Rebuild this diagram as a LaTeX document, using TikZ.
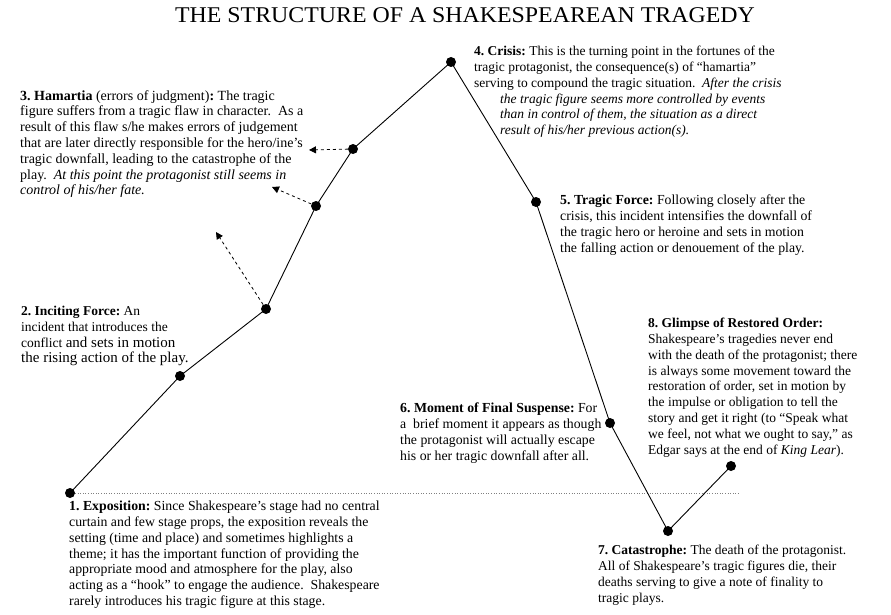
\documentclass[tikz,border=0pt]{standalone}
\usepackage{fontspec}
\setmainfont{Liberation Serif}
\usetikzlibrary{arrows.meta}
\frenchspacing
\tikzset{
  dot/.style={circle,fill=black,inner sep=0pt,minimum size=10pt},
  plotline/.style={line width=0.9pt,black},
  hint/.style={dashed,line width=0.8pt,-{Triangle[length=7pt,width=7pt]}},
  txt/.style={anchor=north west,inner sep=0pt,align=left,font=\fontsize{13.5}{15.8}\selectfont},
  txtb/.style={txt,font=\fontsize{13.8}{15.8}\selectfont},
}
\begin{document}
\begin{tikzpicture}[x=1pt,y=-1pt]
\useasboundingbox (0,0) rectangle (891,615);
% title
\node[inner sep=0pt,font=\fontsize{22.5}{24}\selectfont] (title) at (465,15) {\scalebox{1.06}[1]{THE STRUCTURE OF A SHAKESPEAREAN TRAGEDY}};
% baseline dotted
\coordinate (bl1) at (75,493);
\coordinate (bl2) at (740,493);
\draw[dotted,gray,line width=0.6pt] (bl1) -- (bl2);
% points
\node[dot] (p1) at (70,493) {};
\node[dot] (p2) at (180,376) {};
\node[dot] (p3) at (266,309) {};
\node[dot] (p4) at (316,206) {};
\node[dot] (p5) at (353,149) {};
\node[dot] (p6) at (451,62) {};
\node[dot] (p7) at (536,202) {};
\node[dot] (p8) at (610,423) {};
\node[dot] (p9) at (668,531) {};
\node[dot] (p10) at (731,466) {};
\draw[plotline] (p1.center) -- (p2.center) -- (p3.center) -- (p4.center) -- (p5.center) -- (p6.center) -- (p7.center) -- (p8.center) -- (p9.center) -- (p10.center);
% dashed arrows
\coordinate (a3) at (216,232);
\coordinate (a4) at (272,187);
\coordinate (a5) at (309,150);
\draw[hint] (p3) -- (a3);
\draw[hint] (p4) -- (a4);
\draw[hint] (p5) -- (a5);
% texts
\node[txt,font=\fontsize{14}{15.8}\selectfont] (t3) at (20,90) {\textbf{3. Hamartia} (errors of judgment)\textbf{:} The tragic\\
figure suffers from a tragic flaw in character.\ \ As a\\
result of this flaw s/he makes errors of judgement\\
that are later directly responsible for the hero/ine’s\\
tragic downfall, leading to the catastrophe of the\\
play.\ \ \textit{At this point the protagonist still seems in}\\
\textit{control of his/her fate.}};
\node[txt] (t4) at (474,46) {\textbf{4. Crisis:} This is the turning point in the fortunes of the\\
tragic protagonist, the consequence(s) of “hamartia”\\
serving to compound the tragic situation.\ \ \textit{After the crisis}\\
\hspace{26pt}\textit{the tragic figure seems more controlled by events}\\
\hspace{26pt}\textit{than in control of them, the situation as a direct}\\
\hspace{26pt}\textit{result of his/her previous action(s).}};
\node[txtb] (t5) at (560,195) {\textbf{5. Tragic Force:} Following closely after the\\
crisis, this incident intensifies the downfall of\\
the tragic hero or heroine and sets in motion\\
the falling action or denouement of the play.};
\node[txt] (t2) at (21,306) {\textbf{2. Inciting Force:} An\\
incident that introduces the\\
conflict {\fontsize{15}{15.8}\selectfont and sets in motion}\\
{\fontsize{15}{15.8}\selectfont the rising action of the play.}};
\node[txt] (t8) at (648,318) {\textbf{8. Glimpse of Restored Order:}\\
Shakespeare’s tragedies never end\\
with the death of the protagonist; there\\
is always some movement toward the\\
restoration of order, set in motion by\\
the impulse or obligation to tell the\\
story and get it right (to “Speak what\\
we feel, not what we ought to say,” as\\
Edgar says at the end of \textit{King Lear}).};
\node[txtb] (t6) at (400,403) {\textbf{6. Moment of Final Suspense:} For\\
a\ \ brief moment it appears as though\\
the protagonist will actually escape\\
his or her tragic downfall after all.};
\node[txtb] (t1) at (69,501) {\textbf{1. Exposition:} Since Shakespeare’s stage had no central\\
curtain and few stage props, the exposition reveals the\\
setting (time and place) and sometimes highlights a\\
theme; it has the important function of providing the\\
appropriate mood and atmosphere for the play, also\\
acting as a “hook” to engage the audience.\ \ Shakespeare\\
rarely introduces his tragic figure at this stage.};
\node[txt] (t7) at (598,545) {\textbf{7. Catastrophe:} The death of the protagonist.\\
All of Shakespeare’s tragic figures die, their\\
deaths serving to give a note of finality to\\
tragic plays.};
\end{tikzpicture}
\end{document}
